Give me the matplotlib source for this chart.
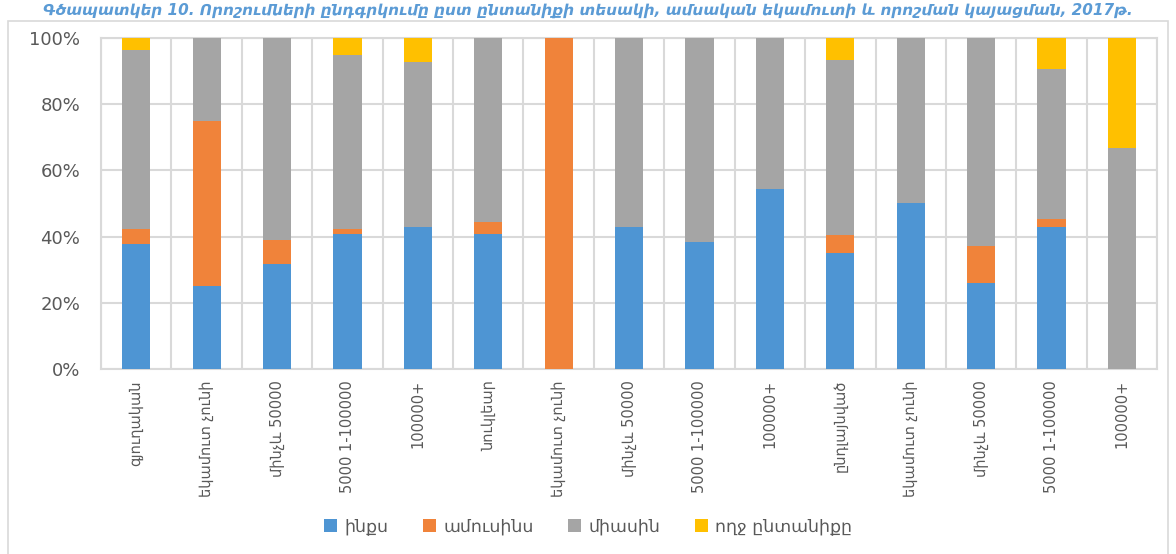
import numpy as np
import matplotlib
matplotlib.use("Agg")
import matplotlib.pyplot as plt
from matplotlib.ticker import PercentFormatter, FixedLocator
from matplotlib.patches import Rectangle

# Տվյալներ (կարդացված գծապատկերից)
kategorianer = ["գյուղական", "եկամուտ չունի", "մինչև 50000", "5000 1-100000", "100000+",
                "նուկլեար", "եկամուտ չունի", "մինչև 50000", "5000 1-100000", "100000+",
                "ընդլայնված", "եկամուտ չունի", "մինչև 50000", "5000 1-100000", "100000+"]
inqs = [37.8, 25.0, 31.8, 40.9, 42.9, 40.7, 0, 42.9, 38.4, 54.5, 35.0, 50.0, 26.0, 42.9, 0]
amusins = [4.5, 50.0, 7.3, 1.3, 0, 3.7, 100, 0, 0, 0, 5.4, 0, 11.1, 2.3, 0]
miasin = [54.0, 25.0, 60.9, 52.7, 50.0, 55.6, 0, 57.1, 61.6, 45.5, 52.9, 50.0, 62.9, 45.3, 66.7]
voxj = [3.7, 0, 0, 5.1, 7.1, 0, 0, 0, 0, 0, 6.7, 0, 0, 9.5, 33.3]
sharqer = ["ինքս", "ամուսինս", "միասին", "ողջ ընտանիքը"]
guyner = ["#4E95D3", "#F0833A", "#A5A5A5", "#FFC000"]

title = "Գծապատկեր 10. Որոշումների ընդգրկումը ըստ ընտանիքի տեսակի, ամսական եկամուտի և որոշման կայացման, 2017թ."

plt.rcParams['font.family'] = ['DejaVu Sans']

fig = plt.figure(figsize=(11.76, 5.54), dpi=100)
ax = fig.add_axes([0.0859, 0.334, 0.8981, 0.5974])

x = np.arange(len(kategorianer))
bottom = np.zeros(len(kategorianer))
for name, vals, c in zip(sharqer, [inqs, amusins, miasin, voxj], guyner):
    v = np.array(vals) / 100
    ax.bar(x, v, width=0.4, bottom=bottom, color=c, label=name, zorder=3)
    bottom += v

ax.set_xlim(-0.5, len(kategorianer) - 0.5)
ax.set_ylim(0, 1)
ax.yaxis.set_major_locator(FixedLocator([0, 0.2, 0.4, 0.6, 0.8, 1.0]))
ax.yaxis.set_major_formatter(PercentFormatter(1.0, decimals=0))
ax.set_xticks(x)
ax.set_xticklabels(kategorianer, rotation=90, fontsize=10.5, color="#595959")
ax.set_xticks(np.arange(-0.5, len(kategorianer), 1), minor=True)
ax.tick_params(axis='both', which='both', length=0)
ax.tick_params(axis='y', labelsize=13, labelcolor="#595959", pad=15)
ax.tick_params(axis='x', pad=8)
ax.grid(True, axis='y', color="#D9D9D9", linewidth=1.5, zorder=0)
ax.grid(True, axis='x', which='minor', color="#D9D9D9", linewidth=1.5, zorder=0)
for s in ax.spines.values():
    s.set_color("#D9D9D9")
    s.set_linewidth(1.5)

fig.legend(loc='lower center', bbox_to_anchor=(0.5, 0.005), ncol=4, frameon=False,
           fontsize=12.5, handlelength=0.75, handleheight=0.75, handletextpad=0.4,
           columnspacing=2.0, labelcolor="#595959")

fig.text(0.5, 1 - 15 / 554, title, ha='center', va='baseline', fontsize=11,
         color="#5B9BD5", fontweight='bold', style='italic')

fig.patches.append(Rectangle((8 / 1176, -0.1), 1160 / 1176, 1.1 - 21 / 554,
                             transform=fig.transFigure, fill=False,
                             edgecolor="#D9D9D9", linewidth=1.2))

fig.savefig("out.png", dpi=100)
